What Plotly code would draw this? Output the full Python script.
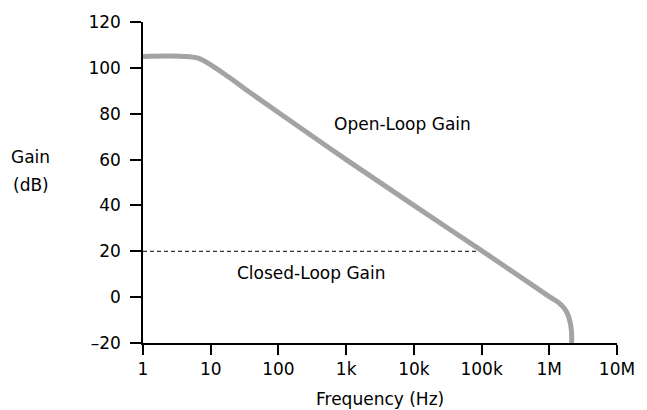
import plotly.graph_objects as go

# Open-loop gain curve (Hz, dB)
freq_hz = [1, 4, 6.5, 10, 18, 31, 100, 1e3, 1e4, 1e5, 1e6,
           1.4e6, 1.7e6, 1.9e6, 2.05e6, 2.12e6, 2.14e6, 2.14e6]
open_loop_db = [105, 105, 104.2, 101.3, 96.2, 91.1, 80.5, 60, 40, 20.3, 0.2,
                -2.6, -5.2, -8, -11.5, -14.5, -17, -20]

# Closed-loop gain (dashed)
closed_freq_hz = [1, 1e5]
closed_loop_db = [20, 20]

x_tickvals = [1, 10, 100, 1e3, 1e4, 1e5, 1e6, 1e7]
x_ticktext = ["1", "10", "100", "1k", "10k", "100k", "1M", "10M"]
y_tickvals = [-20, 0, 20, 40, 60, 80, 100, 120]
y_ticktext = ["\u201320", "0", "20", "40", "60", "80", "100", "120"]

FONT = "DejaVu Sans, Liberation Sans, Arial, sans-serif"
INK = "#000000"

fig = go.Figure()

fig.add_trace(go.Scatter(
    x=closed_freq_hz,
    y=closed_loop_db,
    mode="lines",
    line=dict(color=INK, width=1, dash="4px,3px"),
    hoverinfo="skip",
))

fig.add_trace(go.Scatter(
    x=freq_hz,
    y=open_loop_db,
    mode="lines",
    line=dict(color="#a3a3a3", width=5, shape="spline", smoothing=1.0),
    hoverinfo="skip",
))

# Text labels, placed by pixel position (converted to paper coords below)
labels = [
    (409, 123, "Open-Loop Gain"),
    (315, 273, "Closed-Loop Gain"),
    (386, 399, "Frequency (Hz)"),
    (28, 156, "Gain"),
    (28, 184, "(dB)"),
]

L, R, T, B = 143, 19, 20, 67
W, H = 647, 410
pw, ph = W - L - R, H - T - B
for px, py, txt in labels:
    fig.add_annotation(
        x=(px - L) / pw, y=1 - (py - T) / ph,
        xref="paper", yref="paper",
        xanchor="center", yanchor="middle",
        text=txt, showarrow=False,
    )

fig.update_layout(
    width=W,
    height=H,
    margin=dict(l=L, r=R, t=T, b=B),
    paper_bgcolor="white",
    plot_bgcolor="white",
    showlegend=False,
    font=dict(family=FONT, size=17, color=INK),
    xaxis=dict(
        type="log",
        range=[0, 7],
        tickvals=x_tickvals,
        ticktext=x_ticktext,
        showgrid=False,
        zeroline=False,
        showline=True,
        linecolor=INK,
        linewidth=1.5,
        ticks="outside",
        ticklen=10,
        tickwidth=1.5,
        tickcolor=INK,
        ticklabelstandoff=0,
    ),
    yaxis=dict(
        range=[-20, 120],
        tickvals=y_tickvals,
        ticktext=y_ticktext,
        showgrid=False,
        zeroline=False,
        showline=True,
        linecolor=INK,
        linewidth=1.5,
        ticks="outside",
        ticklen=11,
        tickwidth=1.5,
        tickcolor=INK,
        ticklabelstandoff=6,
    ),
)

fig.write_html(
    "out.html",
    config={"displayModeBar": False},
    post_script="document.body.style.margin='0';",
)
